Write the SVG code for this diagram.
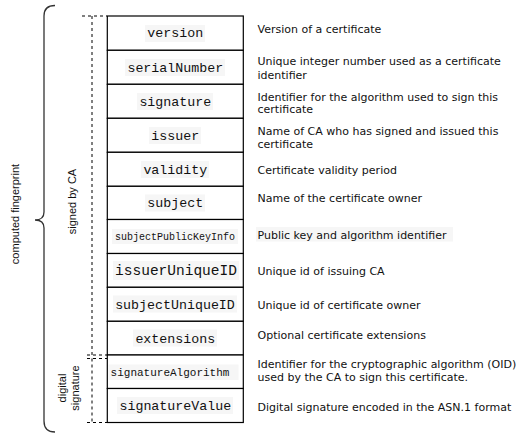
<svg xmlns="http://www.w3.org/2000/svg" width="524" height="434" viewBox="0 0 524 434">
<style>
.bg{fill:#ffffff}
.row{fill:#ffffff;stroke:#000000;stroke-width:1.2}
.hl{fill:#f6f6f6}
.mono{font-family:"Liberation Mono","Courier New",monospace;font-size:13.3px;fill:#111111;text-anchor:middle}
.desc{font-family:Verdana,"DejaVu Sans",sans-serif;font-size:11px;fill:#111111}
.side{font-family:"Liberation Sans",Arial,sans-serif;font-size:11px;fill:#111111;text-anchor:middle}
.dash{fill:none;stroke:#000000;stroke-width:1;stroke-dasharray:3,3}
.brace{fill:none;stroke:#333333;stroke-width:1.3}
</style>
<rect class="bg" x="0" y="0" width="524" height="434"/>

<g id="groups">
  <g id="computed-fingerprint">
    <path class="brace" d="M55,5.5 Q44,5.5 44,16 L44,212 Q44,220 35,220 Q44,220 44,228 L44,421 Q44,432 55,432"/>
    <text class="side" transform="translate(19,214) rotate(-90)">computed fingerprint</text>
  </g>
  <g id="signed-by-ca">
    <text class="side" transform="translate(76,201.5) rotate(-90)">signed by CA</text>
  </g>
  <g id="digital-signature">
    <text class="side" transform="translate(66,388) rotate(-90)">digital</text>
    <text class="side" transform="translate(79,388) rotate(-90)">signature</text>
  </g>
</g>

<g id="connectors">
  <path class="dash" d="M82,16 H107 M92,16 V355 M87,355 H107"/>
  <path class="dash" d="M87,358.5 H107 M92,358.5 V422.5 M87,422.5 H107"/>
</g>

<g id="version">
  <rect class="row" x="107.3" y="16" width="136" height="34.3"/>
  <rect class="hl" x="145" y="25" width="60" height="17"/>
  <text class="mono" x="175.3" y="37.4">version</text>
  <text class="desc" x="257.5" y="33">Version of a certificate</text>
</g>
<g id="serialNumber">
  <rect class="row" x="107.3" y="50.3" width="136" height="34"/>
  <rect class="hl" x="125" y="59" width="100" height="17"/>
  <text class="mono" x="175.3" y="71.6">serialNumber</text>
  <text class="desc" x="257.5" y="64.5">Unique integer number used as a certificate</text>
  <text class="desc" x="257.5" y="79">identifier</text>
</g>
<g id="signature">
  <rect class="row" x="107.3" y="84.3" width="136" height="34"/>
  <rect class="hl" x="137" y="93" width="76" height="17"/>
  <text class="mono" x="175.3" y="105.6">signature</text>
  <text class="desc" x="257.5" y="100.5">Identifier for the algorithm used to sign this</text>
  <text class="desc" x="257.5" y="113">certificate</text>
</g>
<g id="issuer">
  <rect class="row" x="107.3" y="118.3" width="136" height="34"/>
  <rect class="hl" x="149" y="127" width="52" height="17"/>
  <text class="mono" x="175.3" y="139.6">issuer</text>
  <text class="desc" x="257.5" y="134.5">Name of CA who has signed and issued this</text>
  <text class="desc" x="257.5" y="147.5">certificate</text>
</g>
<g id="validity">
  <rect class="row" x="107.3" y="152.3" width="136" height="34"/>
  <rect class="hl" x="141" y="161" width="68" height="17"/>
  <text class="mono" x="175.3" y="173.6">validity</text>
  <text class="desc" x="257.5" y="173.5">Certificate validity period</text>
</g>
<g id="subject">
  <rect class="row" x="107.3" y="186.3" width="136" height="33.2"/>
  <rect class="hl" x="145" y="194.5" width="60" height="17"/>
  <text class="mono" x="175.3" y="207.2">subject</text>
  <text class="desc" x="257.5" y="202.3">Name of the certificate owner</text>
</g>
<g id="subjectPublicKeyInfo">
  <rect class="row" x="107.3" y="219.5" width="136" height="34"/>
  <rect class="hl" x="112" y="229" width="126" height="15"/>
  <text class="mono" x="175" y="240" style="font-size:10px">subjectPublicKeyInfo</text>
  <rect class="hl" x="256" y="227" width="197" height="14.5"/>
  <text class="desc" x="257.5" y="239">Public key and algorithm identifier</text>
</g>
<g id="issuerUniqueID">
  <rect class="row" x="107.3" y="253.5" width="136" height="33.8"/>
  <rect class="hl" x="113" y="261" width="126" height="19"/>
  <text class="mono" x="176" y="275.3" style="font-size:14.5px">issuerUniqueID</text>
  <text class="desc" x="257.5" y="275">Unique id of issuing CA</text>
</g>
<g id="subjectUniqueID">
  <rect class="row" x="107.3" y="287.3" width="136" height="34"/>
  <rect class="hl" x="113" y="295.5" width="124" height="17"/>
  <text class="mono" x="175" y="308.6">subjectUniqueID</text>
  <text class="desc" x="257.5" y="309.3">Unique id of certificate owner</text>
</g>
<g id="extensions">
  <rect class="row" x="107.3" y="321.3" width="136" height="33.7"/>
  <rect class="hl" x="133" y="329.5" width="84" height="17"/>
  <text class="mono" x="175.3" y="342.5">extensions</text>
  <text class="desc" x="257.5" y="339">Optional certificate extensions</text>
</g>
<g id="signatureAlgorithm">
  <rect class="row" x="107.3" y="355" width="136" height="33.5"/>
  <rect class="hl" x="108.5" y="364.5" width="130" height="15.5"/>
  <text class="mono" x="170" y="375.5" style="font-size:11px">signatureAlgorithm</text>
  <text class="desc" x="257.5" y="367.5">Identifier for the cryptographic algorithm (OID)</text>
  <text class="desc" x="257.5" y="381">used by the CA to sign this certificate.</text>
</g>
<g id="signatureValue">
  <rect class="row" x="107.3" y="388.5" width="136" height="34"/>
  <rect class="hl" x="117" y="397" width="116" height="17"/>
  <text class="mono" x="175.3" y="409.8">signatureValue</text>
  <text class="desc" x="257.5" y="410.5">Digital signature encoded in the ASN.1 format</text>
</g>
</svg>
